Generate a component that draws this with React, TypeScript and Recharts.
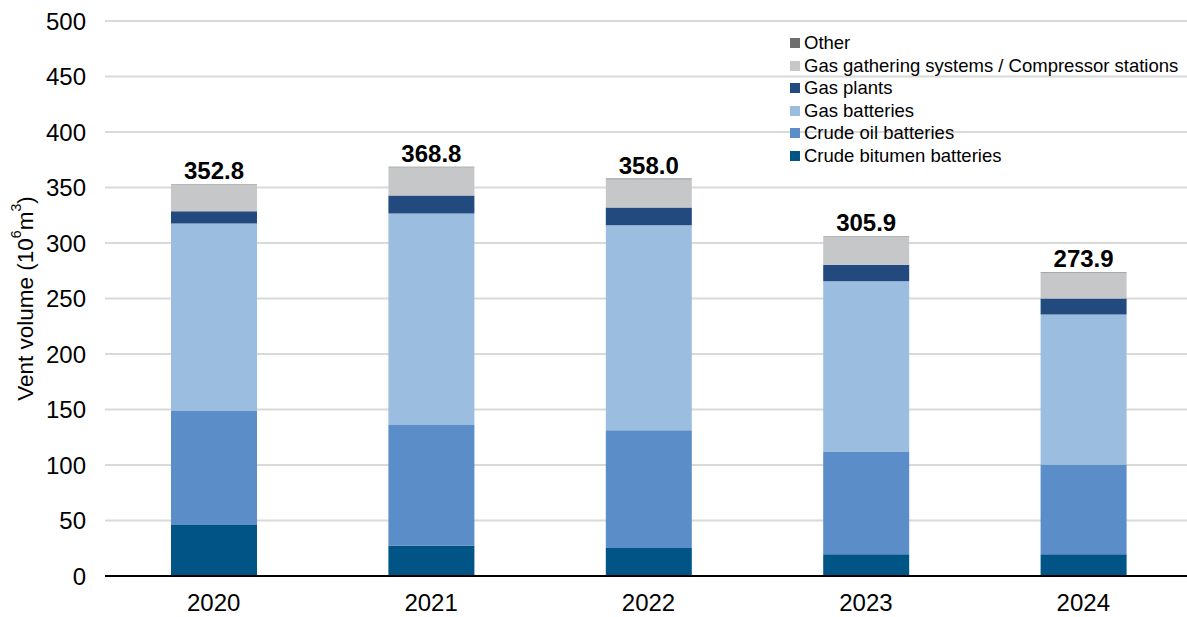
import { Bar, BarChart, CartesianGrid, LabelList, Legend, XAxis, YAxis } from "recharts";

const years = ["2020", "2021", "2022", "2023", "2024"];
const crudeBitumen = [46.0, 27.5, 25.3, 19.6, 19.6];
const crudeOil = [102.7, 108.6, 106.1, 92.2, 80.9];
const gasBatteries = [168.9, 190.5, 184.6, 153.8, 135.1];
const gasPlants = [11.0, 16.2, 16.0, 14.7, 14.4];
const gasGathering = [23.7, 25.5, 25.5, 25.1, 23.4];
const other = [0.5, 0.5, 0.5, 0.5, 0.5];
const totals = [352.8, 368.8, 358.0, 305.9, 273.9];
const yTicks = [0, 50, 100, 150, 200, 250, 300, 350, 400, 450, 500];

const FONT = "'Liberation Sans', Arial, sans-serif";

const series = [
  { key: "bitumen", name: "Crude bitumen batteries", color: "#005486" },
  { key: "crude", name: "Crude oil batteries", color: "#5B8DC9" },
  { key: "gasBatt", name: "Gas batteries", color: "#9BBDE0" },
  { key: "plants", name: "Gas plants", color: "#234A7E" },
  { key: "gathering", name: "Gas gathering systems / Compressor stations", color: "#C6C7C9" },
  { key: "other", name: "Other", color: "#6E6E6E" },
];

const data = years.map((year, i) => ({
  year,
  bitumen: crudeBitumen[i],
  crude: crudeOil[i],
  gasBatt: gasBatteries[i],
  plants: gasPlants[i],
  gathering: gasGathering[i],
  other: other[i],
  total: totals[i],
}));

function LegendBox() {
  return (
    <div style={{ fontFamily: FONT, fontSize: 18.5, color: "#000", lineHeight: "22.5px" }}>
      {[...series].reverse().map((s) => (
        <div key={s.key} style={{ display: "flex", alignItems: "center", whiteSpace: "nowrap" }}>
          <span style={{ width: 10, height: 10, background: s.color, marginRight: 4, display: "inline-block" }} />
          {s.name}
        </div>
      ))}
    </div>
  );
}

function YLabel({ viewBox }: { viewBox?: { x: number; y: number; width: number; height: number } }) {
  const vb = viewBox ?? { x: 0, y: 0, width: 0, height: 0 };
  const cx = vb.x + 25;
  const cy = vb.y + vb.height / 2;
  return (
    <text
      x={cx}
      y={cy}
      transform={`rotate(-90, ${cx}, ${cy})`}
      textAnchor="middle"
      dominantBaseline="central"
      fontFamily={FONT}
      fontSize={22.5}
      fill="#000"
    >
      Vent volume (10
      <tspan dy={-9} fontSize={14}>6</tspan>
      <tspan dy={9}>m</tspan>
      <tspan dy={-9} fontSize={14}>3</tspan>
      <tspan dy={9}>)</tspan>
    </text>
  );
}

export default function App() {
  return (
    <div style={{ width: 1187, height: 617, overflow: "hidden", background: "#fff" }}>
      <style>{`body{margin:0;overflow:hidden}`}</style>
      <BarChart width={1192} height={617} data={data} margin={{ top: 21, right: 0, left: 0, bottom: 0 }}>
        <CartesianGrid vertical={false} stroke="#D9D9D9" strokeWidth={2} />
        <XAxis
          dataKey="year"
          height={41}
          tickLine={false}
          tickSize={0}
          tickMargin={18}
          axisLine={{ stroke: "#000", strokeWidth: 2 }}
          tick={{ fontFamily: FONT, fontSize: 24, fill: "#000" }}
        />
        <YAxis
          width={105}
          domain={[0, 500]}
          ticks={yTicks}
          interval={0}
          axisLine={false}
          tickLine={false}
          tickSize={0}
          tickMargin={19}
          tick={{ fontFamily: FONT, fontSize: 24, fill: "#000" }}
          label={<YLabel />}
        />
        <Legend
          layout="vertical"
          align="center"
          verticalAlign="middle"
          content={<LegendBox />}
          wrapperStyle={{ top: 32, left: 790, width: 400, height: 140 }}
        />
        {series.map((s) => (
          <Bar key={s.key} dataKey={s.key} name={s.name} stackId="a" fill={s.color} barSize={86} isAnimationActive={false}>
            {s.key === "other" ? (
              <LabelList
                dataKey="total"
                position="top"
                offset={5}
                formatter={(v: number) => Number(v).toFixed(1)}
                style={{ fontFamily: FONT, fontSize: 24, fontWeight: 700, fill: "#000" }}
              />
            ) : null}
          </Bar>
        ))}
      </BarChart>
    </div>
  );
}
